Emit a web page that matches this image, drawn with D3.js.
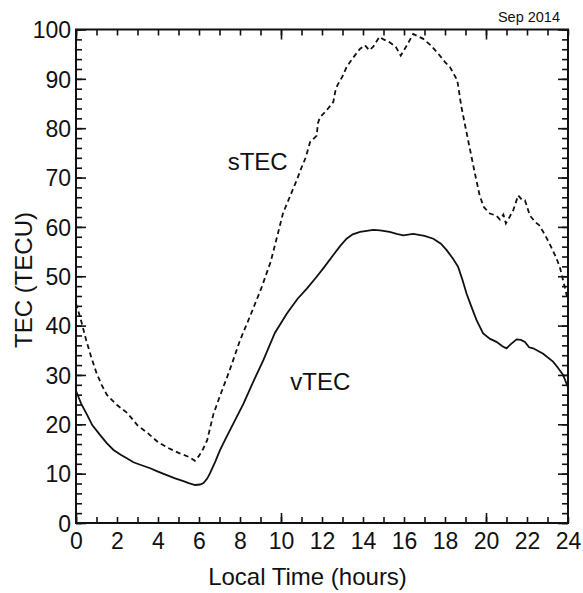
<!DOCTYPE html>
<html><head><meta charset="utf-8">
<script src="https://cdn.jsdelivr.net/npm/d3@7"></script>
<style>body{margin:0;background:#fff}svg{display:block}text{font-family:"Liberation Sans",Arial,sans-serif;fill:#111}</style>
</head><body>
<script>
const sTime = [0,0.25,0.5,0.75,1,1.25,1.5,2,2.5,3,3.5,4,4.5,5,5.5,5.8,6.0,6.2,6.4,6.7,7.0,7.5,8.0,8.5,9.06,9.5,9.87,10.1,10.3,10.8,10.95,11.2,11.42,11.74,11.8,11.9,12.2,12.55,12.65,12.75,13.0,13.2,13.5,13.86,14.1,14.3,14.5,14.8,15.0,15.3,15.6,15.84,16.1,16.45,16.7,16.94,17.3,17.67,18.0,18.24,18.6,18.8,19.13,19.46,19.7,19.9,20.19,20.5,20.68,20.85,20.97,21.15,21.33,21.57,21.75,21.9,22.14,22.4,22.6,22.85,23.1,23.4,23.6,23.76,24];
const sTEC = [44.5,41,37,33.5,30.4,28,26,23.9,22.3,19.8,18.2,16.4,15.2,14.2,13.4,12.6,13.6,15,16.8,22,25.5,31,37,42,47.8,53,59,62.8,64.8,69.8,71.5,74,77.2,78.5,81,82.2,83.5,85.3,87.5,88.7,90.5,92.4,94.2,96.1,96.8,95.8,96.5,98.5,98.0,97.4,96.5,94.7,96.5,99.1,98.6,98.1,96.8,95.1,93.4,92.4,89.7,84.3,77.5,70.8,66.2,64,62.7,62.3,61.5,62.5,60.7,62,63.4,66.4,65.5,65.4,62.3,61,60.3,58.6,56.6,54,51.9,49.2,45];
const vTime = [0,0.25,0.53,0.8,1.18,1.5,1.83,2.2,2.48,2.8,3.2,3.62,4.0,4.43,4.8,5.24,5.5,5.81,6.05,6.22,6.4,6.54,6.8,7.03,7.35,7.68,8.17,8.6,9.14,9.7,10.28,10.8,11.26,11.74,12.1,12.55,12.9,13.2,13.5,13.86,14.5,14.83,15.3,15.64,15.96,16.45,17.0,17.43,17.8,18.08,18.4,18.64,18.85,19.05,19.3,19.54,19.86,20.2,20.51,20.8,21.0,21.2,21.49,21.7,21.9,22.1,22.3,22.79,23.27,23.5,23.76,24];
const vTEC = [26.8,24.2,22.0,19.8,17.8,16.2,14.8,13.8,13.1,12.3,11.7,11.1,10.4,9.7,9.1,8.5,8.1,7.7,7.8,8.1,9,10.1,12.5,14.8,17.5,20.2,24.2,28.2,33,38.5,42.4,45.4,47.5,49.9,51.8,54.3,56.2,57.6,58.5,59,59.4,59.3,59,58.6,58.3,58.6,58.2,57.6,56.6,55.3,53.5,51.9,49.3,46.5,43.7,41.1,38.4,37.3,36.7,35.8,35.4,36.2,37.2,37.1,36.7,35.6,35.4,34.3,32.7,31.5,30,27.5];
const xTickLabels = [0,2,4,6,8,10,12,14,16,18,20,22,24];
const yTickLabels = [0,10,20,30,40,50,60,70,80,90,100];

const W = 583, H = 593;
const L = 76, R = 568, T = 29.5, B = 523;
const svg = d3.select("body").append("svg").attr("width", W).attr("height", H);
const x = d3.scaleLinear().domain([0, 24]).range([L, R]);
const y = d3.scaleLinear().domain([0, 100]).range([B, T]);
const ink = "#111";

function ticks(gen, transform, vals, size) {
  const g = svg.append("g").attr("transform", transform)
    .call(gen.tickValues(vals).tickSize(size).tickFormat(""));
  g.select(".domain").remove();
  g.selectAll("line").attr("stroke", ink).attr("stroke-width", 1.6);
}
const minorX = d3.range(0, 25, 1), majorX = [0, 10, 20];
const minorY = d3.range(0, 101, 2), majorY = d3.range(0, 101, 10);
ticks(d3.axisBottom(x), `translate(0,${B})`, minorX, -6);
ticks(d3.axisBottom(x), `translate(0,${B})`, majorX, -10);
ticks(d3.axisTop(x), `translate(0,${T})`, minorX, -6);
ticks(d3.axisTop(x), `translate(0,${T})`, majorX, -10);
ticks(d3.axisLeft(y), `translate(${L},0)`, minorY, -6);
ticks(d3.axisLeft(y), `translate(${L},0)`, majorY, -10);
ticks(d3.axisRight(y), `translate(${R},0)`, minorY, -6);
ticks(d3.axisRight(y), `translate(${R},0)`, majorY, -10);

// labels
const gx = svg.append("g").attr("transform", `translate(0,${B})`)
  .call(d3.axisBottom(x).tickValues(xTickLabels).tickSize(0).tickPadding(0));
gx.select(".domain").remove();
gx.selectAll("text").attr("y", 26).attr("dy", 0).style("font-size", "23px").attr("fill", ink);
const gy = svg.append("g").attr("transform", `translate(${L},0)`)
  .call(d3.axisLeft(y).tickValues(yTickLabels).tickSize(0).tickPadding(5));
gy.select(".domain").remove();
gy.selectAll("text").attr("dy", "0.36em").style("font-size", "23px").attr("fill", ink);

// lines
const line = d3.line().x(d => x(d[0])).y(d => y(d[1]));
svg.append("path").datum(sTime.map((t, i) => [t, sTEC[i]]))
  .attr("d", line).attr("fill", "none").attr("stroke", ink)
  .attr("stroke-width", 1.8).attr("stroke-dasharray", "5,3.5");
svg.append("path").datum(vTime.map((t, i) => [t, vTEC[i]]))
  .attr("d", line).attr("fill", "none").attr("stroke", ink)
  .attr("stroke-width", 1.8);

// frame
svg.append("rect").attr("x", L).attr("y", T).attr("width", R - L).attr("height", B - T)
  .attr("fill", "none").attr("stroke", ink).attr("stroke-width", 2);

// annotations
svg.append("text").attr("x", x(7.4)).attr("y", y(71.5)).style("font-size", "24px").text("sTEC");
svg.append("text").attr("x", x(10.45)).attr("y", y(26.9)).style("font-size", "24px").text("vTEC");
svg.append("text").attr("x", 560).attr("y", 21.5).attr("text-anchor", "end").style("font-size", "14.5px").text("Sep 2014");
svg.append("text").attr("x", 307.5).attr("y", 585).attr("text-anchor", "middle").style("font-size", "24px").text("Local Time (hours)");
svg.append("text").attr("transform", "translate(31.5,280) rotate(-90)").attr("text-anchor", "middle").style("font-size", "24px").text("TEC (TECU)");
</script>
</body></html>
